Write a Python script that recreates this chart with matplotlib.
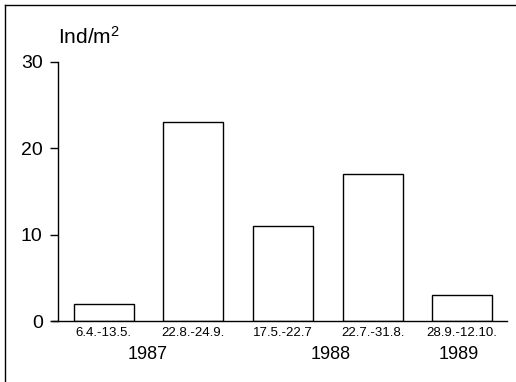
import matplotlib
matplotlib.use('Agg')
import matplotlib.pyplot as plt
from matplotlib.lines import Line2D
from matplotlib.transforms import blended_transform_factory

plt.rcParams['font.family'] = 'Liberation Sans'
plt.rcParams['mathtext.default'] = 'regular'

# data
periods = ['6.4.-13.5.', '22.8.-24.9.', '17.5.-22.7', '22.7.-31.8.', '28.9.-12.10.']
density = [2, 23, 11, 17, 3]
years = ['1987', '1988', '1989']
year_pos = [0.49, 2.53, 3.96]
yticks = [0, 10, 20, 30]

W, H = 516, 382
fig = plt.figure(figsize=(W / 100, H / 100), dpi=100)
ax = fig.add_axes([58 / W, (H - 321) / H, (507 - 58) / W, (321 - 62) / H])

x = list(range(len(density)))
ax.bar(x, density, width=0.67, facecolor='white', edgecolor='black', linewidth=1)

ax.set_xlim(-0.51, 4.5)
ax.set_ylim(0, 30)
ax.set_yticks(yticks)
ax.tick_params(axis='y', labelsize=14, length=6, width=1, pad=5)
ax.set_xticks(x)
ax.set_xticklabels(periods, fontsize=9.5)
ax.tick_params(axis='x', length=0, pad=4)

for s in ['top', 'right', 'bottom']:
    ax.spines[s].set_visible(False)
ax.spines['left'].set_linewidth(1)
# baseline runs a bit past the y axis
ax.plot([-0.58, 4.5], [0, 0], color='black', linewidth=1, clip_on=False)

tr = blended_transform_factory(ax.transData, ax.transAxes)
for yr, xp in zip(years, year_pos):
    ax.text(xp, -0.13, yr, transform=tr, ha='center', va='center', fontsize=13)

fig.text(58 / W, 1 - 37 / H, 'Ind/m$^2$', fontsize=15, ha='left', va='center')

# scan frame
fig.add_artist(Line2D([5 / W, 1], [1 - 5 / H, 1 - 5 / H], color='black', linewidth=1))
fig.add_artist(Line2D([5 / W, 5 / W], [0, 1 - 5 / H], color='black', linewidth=1))

fig.savefig('out.png', dpi=100)
